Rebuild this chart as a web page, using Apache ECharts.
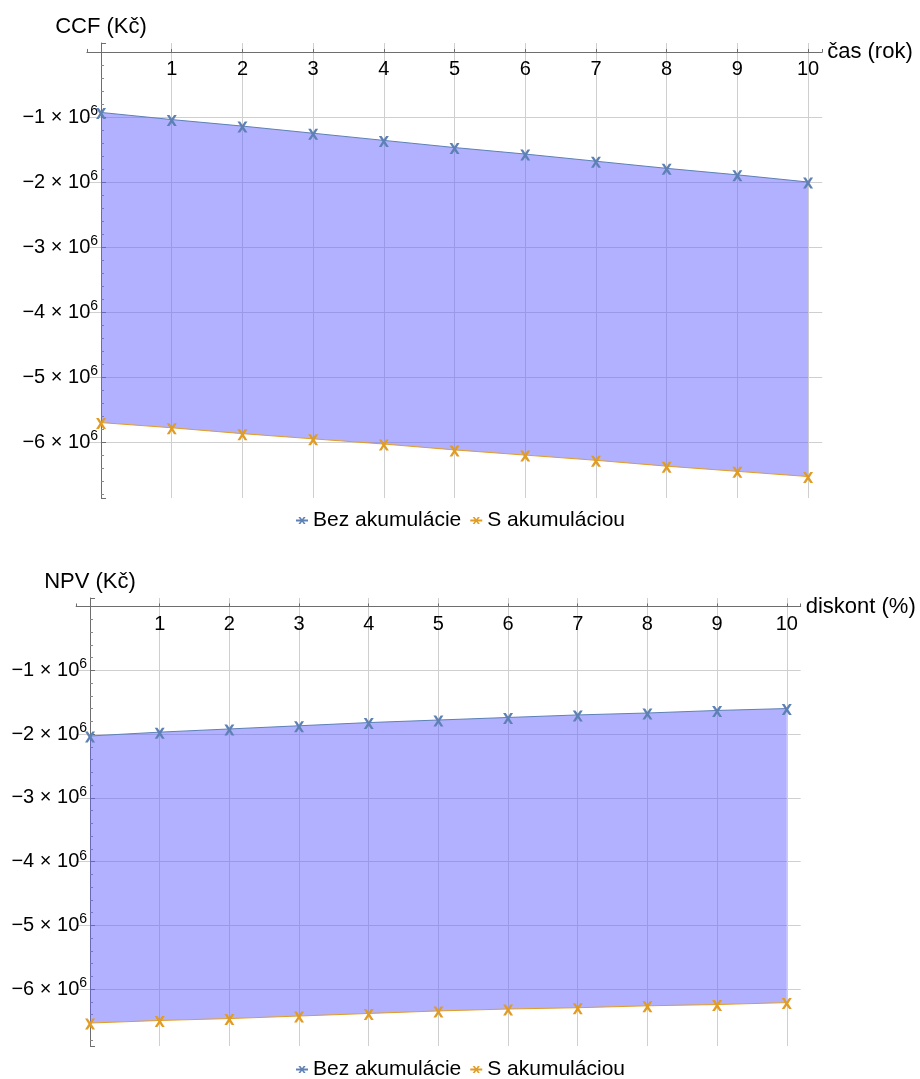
<!DOCTYPE html>
<html><head><meta charset="utf-8">
<script src="https://cdn.jsdelivr.net/npm/echarts@6/dist/echarts.min.js"></script>
<style>html,body{margin:0;padding:0;background:#fff}#c{width:920px;height:1079px}</style>
</head><body><div id="c"></div>
<script>
// ---- data ----
const years = [0, 1, 2, 3, 4, 5, 6, 7, 8, 9, 10];
const discounts = [0, 1, 2, 3, 4, 5, 6, 7, 8, 9, 10];
const ccfBez = [-0.93e6, -1.04e6, -1.14e6, -1.25e6, -1.36e6, -1.47e6, -1.57e6, -1.68e6, -1.79e6, -1.89e6, -2.00e6];
const ccfS   = [-5.70e6, -5.78e6, -5.87e6, -5.95e6, -6.03e6, -6.12e6, -6.20e6, -6.28e6, -6.37e6, -6.45e6, -6.53e6];
const npvBez = [-2.03e6, -1.97e6, -1.92e6, -1.87e6, -1.82e6, -1.78e6, -1.74e6, -1.70e6, -1.67e6, -1.63e6, -1.60e6];
const npvS   = [-6.53e6, -6.49e6, -6.46e6, -6.42e6, -6.38e6, -6.34e6, -6.31e6, -6.29e6, -6.26e6, -6.24e6, -6.21e6];
const seriesNames = ['Bez akumulácie', 'S akumuláciou'];
const axisNames = { ccfY: 'CCF (Kč)', ccfX: 'čas (rok)', npvY: 'NPV (Kč)', npvX: 'diskont (%)' };

// ---- style / layout ----
const FONT = "'Liberation Sans', Arial, sans-serif";
const TICK_FS = 20, NAME_FS = 22, LEG_FS = 21;
const BLUE = '#5E81B5', ORANGE = '#E19C24';
const FILL = 'rgba(100,100,255,0.5)';
const GRID_COL = '#cfcfcf', AXIS_COL = '#6e6e6e';
const XMARK = 'path://M0,0L2.7,0L5,3.1L7.3,0L10,0L6.5,5L10,10L7.3,10L5,6.9L2.7,10L0,10L3.5,5Z';

const G = [
  { left: 86.9, width: 735.3, top: 43, height: 455, xmin: -0.2, xmax: 10.2, ymin: -6.86e6, ymax: 0.138e6 },
  { left: 76.1, width: 724.6, top: 598, height: 448, xmin: -0.2, xmax: 10.2, ymin: -6.89e6, ymax: 0.133e6 }
];

const pairs = (xs, ys) => xs.map((x, i) => [x, ys[i]]);

function xAxisCfg(i, name) {
  const g = G[i];
  return {
    type: 'value', gridIndex: i, min: g.xmin, max: g.xmax, minInterval: 1, maxInterval: 1,
    position: 'top', offset: -g.height * g.ymax / (g.ymax - g.ymin),
    name, nameLocation: 'end', nameGap: 5,
    nameTextStyle: { fontSize: NAME_FS, fontFamily: FONT, color: '#000', verticalAlign: 'middle' },
    axisLine: { onZero: false, lineStyle: { color: AXIS_COL, width: 1 } },
    axisTick: { show: true, inside: false, length: 3, lineStyle: { color: AXIS_COL } },
    axisLabel: {
      inside: true, fontSize: TICK_FS, fontFamily: FONT, color: '#000', margin: 8,
      formatter: v => (Math.abs(v - Math.round(v)) < 1e-6 && v > 0.5) ? String(Math.round(v)) : ''
    },
    splitLine: { show: true, showMinLine: false, showMaxLine: false, lineStyle: { color: GRID_COL, width: 1 } }
  };
}
function yAxisCfg(i, name) {
  const g = G[i];
  return {
    type: 'value', gridIndex: i, min: g.ymin, max: g.ymax, minInterval: 1e6, maxInterval: 1e6,
    position: 'left', offset: -g.width * (0 - g.xmin) / (g.xmax - g.xmin),
    name, nameLocation: 'end', nameGap: 5,
    nameTextStyle: { fontSize: NAME_FS, fontFamily: FONT, color: '#000', align: 'center' },
    axisLine: { onZero: false, lineStyle: { color: AXIS_COL, width: 1 } },
    axisTick: { show: true, inside: true, length: 5, lineStyle: { color: AXIS_COL } },
    minorTick: { show: true, splitNumber: 5, length: 3, lineStyle: { color: '#8a8a8a' } },
    axisLabel: {
      margin: 3,
      formatter: v => {
        const m = v / 1e6;
        if (v >= 0 || Math.abs(m - Math.round(m)) > 1e-6) return '';
        return '{m|\u2212' + Math.round(-m) + ' \u00d7 10}{s|6}';
      },
      rich: {
        m: { fontSize: TICK_FS, fontFamily: FONT, color: '#000', lineHeight: 26, verticalAlign: 'middle' },
        s: { fontSize: 14, fontFamily: FONT, color: '#000', lineHeight: 14, verticalAlign: 'top' }
      }
    },
    splitLine: { show: true, showMinLine: false, showMaxLine: false, lineStyle: { color: GRID_COL, width: 1 } }
  };
}
function fillSeries(i, xs, upper, lower) {
  return {
    type: 'custom', xAxisIndex: i, yAxisIndex: i, silent: true, z: 1,
    data: xs.map((x, k) => [x, upper[k], lower[k]]),
    encode: { x: 0, y: [1, 2] },
    renderItem: (params, api) => {
      if (params.dataIndex !== 0) return null;
      const top = xs.map((x, k) => api.coord([x, upper[k]]));
      const bot = xs.map((x, k) => api.coord([x, lower[k]])).reverse();
      return { type: 'polygon', shape: { points: top.concat(bot) }, style: { fill: FILL }, silent: true };
    }
  };
}
function lineSeries(i, name, xs, ys, color) {
  return { type: 'line', name, xAxisIndex: i, yAxisIndex: i, data: pairs(xs, ys),
    symbol: XMARK, symbolSize: [10, 11], symbolOffset: [0, 1], showAllSymbol: true,
    itemStyle: { color }, lineStyle: { color, width: 1 }, z: 3, clip: false };
}
function legendCfg(top) {
  return { top, left: 'center', itemWidth: 12, itemHeight: 9, itemGap: 8,
    textStyle: { fontSize: LEG_FS, fontFamily: FONT, color: '#000' }, data: seriesNames };
}

const chart = echarts.init(document.getElementById('c'), null, { renderer: 'canvas' });
chart.setOption({
  animation: false,
  backgroundColor: '#fff',
  grid: G.map(g => ({ left: g.left, width: g.width, top: g.top, height: g.height })),
  xAxis: [ xAxisCfg(0, axisNames.ccfX), xAxisCfg(1, axisNames.npvX) ],
  yAxis: [ yAxisCfg(0, axisNames.ccfY), yAxisCfg(1, axisNames.npvY) ],
  legend: [ legendCfg(505), legendCfg(1054) ],
  series: [
    fillSeries(0, years, ccfBez, ccfS),
    lineSeries(0, seriesNames[0], years, ccfBez, BLUE),
    lineSeries(0, seriesNames[1], years, ccfS, ORANGE),
    fillSeries(1, discounts, npvBez, npvS),
    lineSeries(1, seriesNames[0], discounts, npvBez, BLUE),
    lineSeries(1, seriesNames[1], discounts, npvS, ORANGE)
  ]
});
</script>
</body></html>
